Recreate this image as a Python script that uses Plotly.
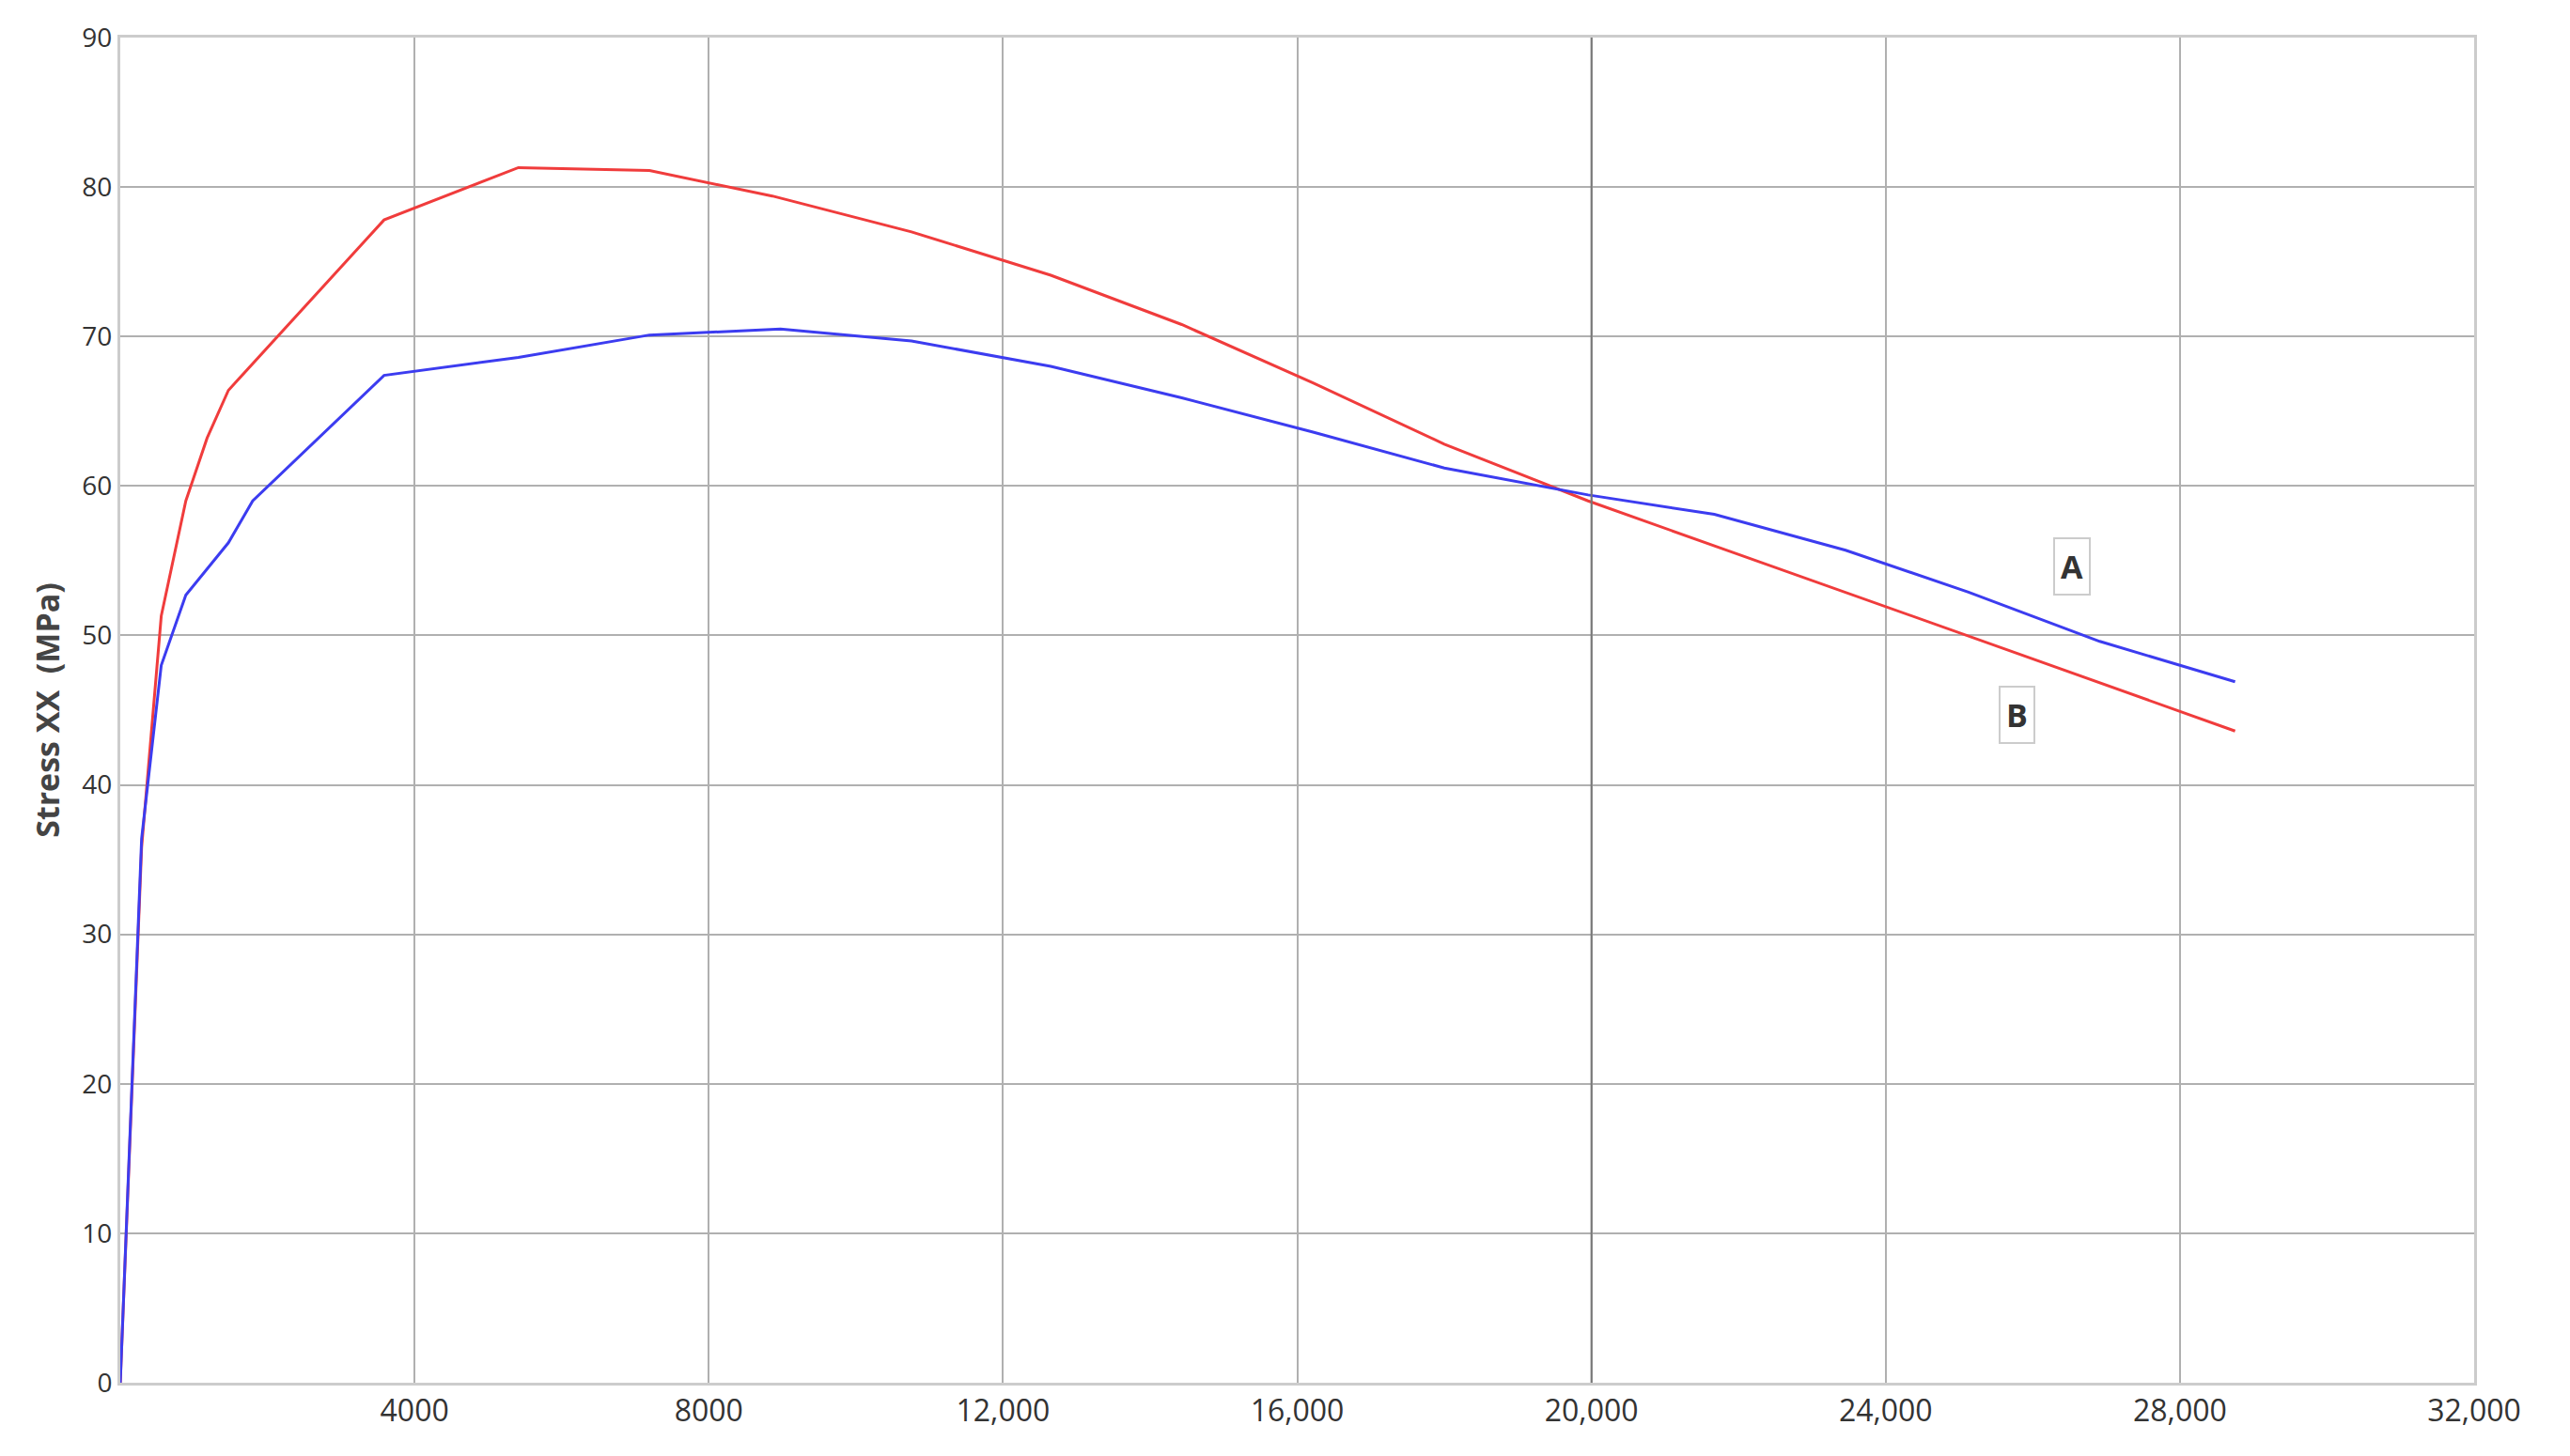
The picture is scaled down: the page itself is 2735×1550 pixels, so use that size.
import plotly.graph_objects as go

red_x = [0, 290, 557, 891, 1180, 1470, 3586, 5412, 7194, 8864, 10757, 12650, 14430, 16215, 18000, 19955, 21780, 23790, 25790, 28750]
red_y = [0, 35.8, 51.3, 59, 63.2, 66.4, 77.8, 81.3, 81.1, 79.4, 77, 74.1, 70.8, 66.9, 62.8, 59, 55.8, 52.3, 48.8, 43.6]
blue_x = [0, 290, 557, 891, 1470, 1800, 3586, 5412, 7194, 8975, 10757, 12650, 14430, 16215, 18000, 19955, 21670, 23455, 25125, 26910, 28750]
blue_y = [0, 36.4, 48, 52.7, 56.2, 59, 67.4, 68.6, 70.1, 70.5, 69.7, 68, 65.9, 63.6, 61.2, 59.4, 58.1, 55.7, 52.9, 49.6, 46.9]
x_ticks = [4000, 8000, 12000, 16000, 20000, 24000, 28000, 32000]
x_labels = ["4000", "8000", "12,000", "16,000", "20,000", "24,000", "28,000", "32,000"]
y_ticks = list(range(0, 91, 10))
labels = [("A", 26530, 54.6), ("B", 25790, 44.7)]

fig = go.Figure()
fig.add_trace(go.Scatter(x=red_x, y=red_y, mode="lines", line=dict(color="#f03c3c", width=3)))
fig.add_trace(go.Scatter(x=blue_x, y=blue_y, mode="lines", line=dict(color="#3c3cf0", width=3)))
for t, x, y in labels:
    fig.add_annotation(x=x, y=y, text="<b>"+t+"</b>", showarrow=False, bordercolor="#cccccc",
                       borderwidth=2, borderpad=6, bgcolor="white", font=dict(size=34, color="#333"))
fig.add_shape(type="line", x0=20000, x1=20000, y0=0, y1=90, line=dict(color="#777", width=2))
fig.update_layout(width=2735, height=1550, showlegend=False, plot_bgcolor="white", paper_bgcolor="white",
                  margin=dict(l=120, r=110, t=32, b=86),
                  font=dict(family="Open Sans", color="#333", size=30))
fig.update_xaxes(range=[0, 32000], tickvals=x_ticks, ticktext=x_labels, showgrid=True, gridcolor="#b0b0b0",
                 gridwidth=2, showline=True, linecolor="#cccccc", linewidth=3, mirror=True, ticks="", ticklen=12,
                 tickfont=dict(size=32), zeroline=False)
fig.update_yaxes(range=[0, 90], tickvals=y_ticks, showgrid=True, gridcolor="#b0b0b0", gridwidth=2,
                 showline=True, linecolor="#cccccc", linewidth=3, mirror=True, zeroline=False,
                 tickfont=dict(size=28), title=dict(text="<b>Stress XX  (MPa)</b>", font=dict(size=34, color="#444"), standoff=14))
fig.write_html("out.html")
